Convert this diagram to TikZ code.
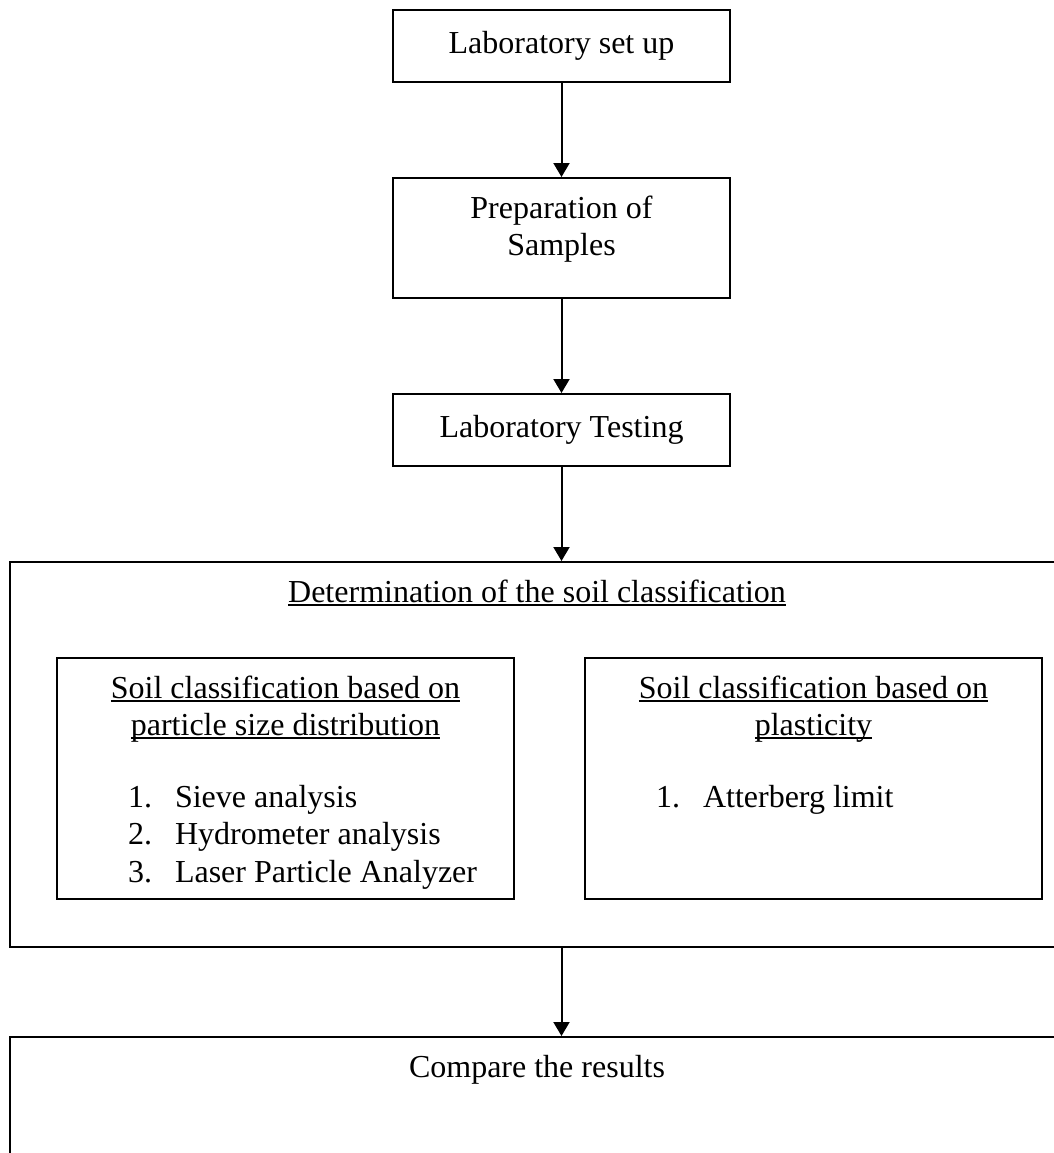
\documentclass[tikz,border=0pt]{standalone}
\usepackage{fontspec}
\setmainfont{Liberation Serif}
\usetikzlibrary{arrows.meta}
\tikzset{>={Triangle[width=8pt,length=7pt]}}
\newsavebox{\ulbox}
\newcommand{\ultext}[1]{\sbox{\ulbox}{#1}\rlap{\rule[-1.8pt]{\wd\ulbox}{0.7pt}}\usebox{\ulbox}}

\begin{document}
\begin{tikzpicture}[x=0.5pt, y=-0.5pt, line width=1pt,
    font=\fontsize{16pt}{18.5pt}\selectfont,
    box/.style={draw, inner sep=0pt},
    txt/.style={anchor=base, align=center, inner sep=0pt},
    num/.style={anchor=base west, inner sep=0pt}]

    \useasboundingbox (0,0) rectangle (1054,1153);
    \clip (0,0) rectangle (1054,1153);

    \node[box, minimum width=168.5pt, minimum height=36pt] (setup) at (561.5,46) {Laboratory set up};
    \node[box, minimum width=168.5pt, minimum height=60pt] (prep) at (561.5,238) {};
    \node[txt] (preptxt) at (561.5,255) {Preparation of\\Samples};
    \node[box, minimum width=168.5pt, minimum height=36pt] (testing) at (561.5,430) {Laboratory Testing};

    % soil classification
    \node[box, minimum width=527pt, minimum height=192.5pt] (classif) at (537,754.5) {};
    \node[txt] (classiftxt) at (537,602) {\ultext{Determination of the soil classification}};

    \node[box, minimum width=228.5pt, minimum height=120.5pt] (psd) at (285.5,778.5) {};
    \node[txt] (psdtxt) at (285.5,735) {\ultext{Soil classification based on}\\\ultext{particle size distribution}};
    \node[num] (psdnum1) at (127,807) {1.};
    \node[num] (psditem1) at (174,807) {Sieve analysis};
    \node[num] (psdnum2) at (127,844.5) {2.};
    \node[num] (psditem2) at (174,844.5) {Hydrometer analysis};
    \node[num] (psdnum3) at (127,882) {3.};
    \node[num] (psditem3) at (174,882) {Laser Particle Analyzer};

    \node[box, minimum width=228.5pt, minimum height=120.5pt] (plast) at (813.5,778.5) {};
    \node[txt] (plasttxt) at (813.5,735) {\ultext{Soil classification based on}\\\ultext{plasticity}};
    \node[num] (plastnum1) at (655,807) {1.};
    \node[num] (plastitem1) at (702,807) {Atterberg limit};

    \node[box, minimum width=527pt, minimum height=81.5pt] (compare) at (537,1118.5) {};
    \node[txt] (comparetxt) at (537,1077) {Compare the results};

    \draw[->] (setup) -- (prep);
    \draw[->] (prep) -- (testing);
    \draw[->] (testing) -- (classif.north -| testing);
    \draw[->] (classif.south -| testing) -- (compare.north -| testing);

\end{tikzpicture}
\end{document}
